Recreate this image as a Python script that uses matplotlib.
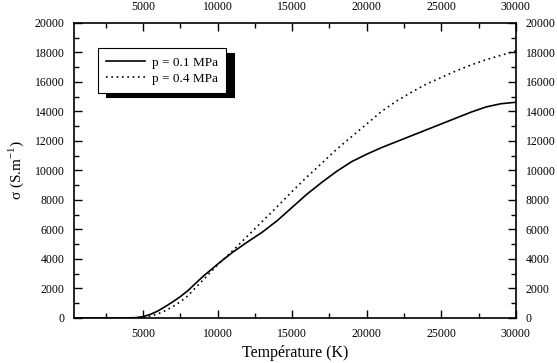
import matplotlib
matplotlib.use("Agg")
import matplotlib.pyplot as plt
from matplotlib.ticker import MultipleLocator

plt.rcParams['font.family'] = ['Liberation Serif', 'DejaVu Serif']

# temperature (K) and conductivity (S/m)
T_01 = [370, 2000, 3500, 4500, 5000, 5500, 6000, 6500, 7000, 7500, 8000, 9000, 10000,
        11000, 12000, 13000, 14000, 15000, 16000, 17000, 18000, 19000, 20000, 21000,
        22000, 23000, 24000, 25000, 26000, 27000, 28000, 29000, 30000]
sigma_01 = [0, 0, 0, 20, 90, 250, 480, 780, 1100, 1450, 1850, 2800, 3650,
            4450, 5150, 5820, 6600, 7500, 8400, 9200, 9950, 10600, 11100, 11550,
            11950, 12350, 12750, 13150, 13550, 13950, 14300, 14520, 14620]

T_04 = [370, 2000, 3500, 4500, 5000, 5500, 6000, 6500, 7000, 7500, 8000, 9000, 10000,
        11000, 12000, 13000, 14000, 15000, 16000, 17000, 18000, 19000, 20000, 21000,
        22000, 23000, 24000, 25000, 26000, 27000, 28000, 29000, 30000]
sigma_04 = [0, 0, 0, 10, 40, 130, 280, 500, 780, 1100, 1500, 2550, 3600,
            4550, 5550, 6550, 7550, 8580, 9570, 10500, 11450, 12300, 13150, 14000,
            14700, 15300, 15850, 16300, 16750, 17150, 17500, 17800, 18100]

labels = ['p = 0.1 MPa', 'p = 0.4 MPa']

fig = plt.figure(figsize=(5.57, 3.63), dpi=100)
ax = fig.add_axes([0.133, 0.124, 0.793, 0.813])

ax.plot(T_01, sigma_01, color='black', lw=1.2, label=labels[0])
ax.plot(T_04, sigma_04, color='black', lw=1.2, linestyle=(0, (1, 2.2)), label=labels[1])

ax.set_xlim(370, 30000)
ax.set_ylim(0, 20000)
ax.xaxis.set_major_locator(MultipleLocator(5000))
ax.xaxis.set_minor_locator(MultipleLocator(2500))
ax.yaxis.set_major_locator(MultipleLocator(2000))
ax.yaxis.set_minor_locator(MultipleLocator(1000))
ax.tick_params(which='both', direction='in', top=True, right=True,
               labeltop=True, labelright=True, labelsize=8.5, width=1)
ax.tick_params(which='major', length=6, pad=7)
ax.tick_params(which='minor', length=3.5)
for s in ax.spines.values():
    s.set_linewidth(1.2)

ax.set_xlabel('Température (K)', fontsize=11.5, labelpad=4)
ax.set_ylabel(r'σ (S.m$^{\mathregular{-1}}$)', fontsize=11, labelpad=6)

leg = ax.legend(loc='upper left', bbox_to_anchor=(0.0385, 0.936), fontsize=9.5,
                frameon=True, fancybox=False, edgecolor='black', framealpha=1,
                shadow={'color': 'black', 'alpha': 1, 'ox': 6, 'oy': -3.5},
                handlelength=3.0, handletextpad=0.5, borderpad=0.6, labelspacing=0.3)
leg.get_frame().set_linewidth(0.8)

fig.savefig('out.png', dpi=100)
